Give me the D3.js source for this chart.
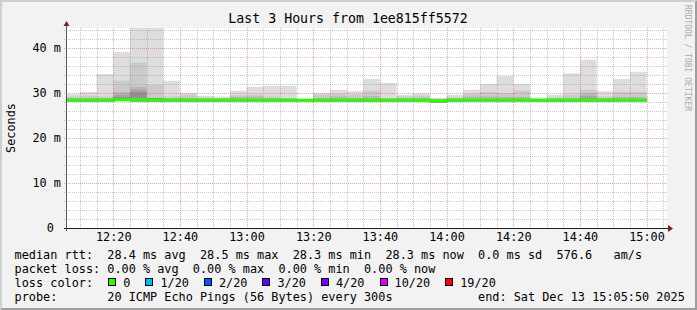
<!DOCTYPE html>
<html>
<head>
<meta charset="utf-8">
<script src="https://cdn.jsdelivr.net/npm/d3@7"></script>
<style>
body { margin: 0; background: #F2F2F2; }
text { font-family: "DejaVu Sans Mono", monospace; white-space: pre; }
</style>
</head>
<body>
<div id="my_chart"></div>
<script>
// 5 minute steps, one entry per ping round
var times = ["12:05","12:10","12:15","12:20","12:25","12:30","12:35","12:40","12:45","12:50",
             "12:55","13:00","13:05","13:10","13:15","13:20","13:25","13:30","13:35","13:40",
             "13:45","13:50","13:55","14:00","14:05","14:10","14:15","14:20","14:25","14:30",
             "14:35","14:40","14:45","14:50","14:55"];

// values in ms
var median = [28.4,28.4,28.4,28.5,28.5,28.4,28.4,28.4,28.4,28.4,
              28.4,28.4,28.4,28.4,28.4,28.4,28.4,28.4,28.4,28.4,
              28.4,28.4,28.2,28.4,28.4,28.4,28.4,28.4,28.4,28.4,
              28.4,28.4,28.4,28.4,28.4];
var smokeMin = [28.1,28.1,28.1,28.2,28.1,28.1,28.1,28.1,28.1,28.1,
                28.1,28.1,28.1,28.1,28.1,28.1,28.1,28.1,28.1,28.1,
                28.1,28.1,27.9,28.1,28.1,28.1,28.1,28.1,28.1,28.1,
                28.1,28.1,28.1,28.1,28.1];
var smokeMax = [29.7,30.2,34.2,39.1,48.0,46.5,32.7,30.0,29.4,29.2,
                30.5,31.4,31.6,31.6,28.7,30.0,30.7,30.4,33.1,32.2,
                29.6,29.9,28.9,29.6,30.7,32.0,33.8,32.0,29.0,29.6,
                34.4,37.4,30.4,33.1,34.7];
var smokeP90 = [29.2,29.4,29.2,32.7,36.7,31.8,29.2,29.6,29.0,28.9,
                29.5,29.6,29.2,28.9,28.6,29.6,29.8,29.6,30.5,28.9,
                29.2,29.4,28.7,29.0,29.8,30.2,30.0,30.5,28.7,29.0,
                29.6,30.7,29.2,30.2,30.3];
var smokeP80 = [28.9,28.9,28.9,30.2,31.4,28.9,28.9,28.9,28.8,28.8,
                29.1,29.2,28.9,28.8,28.6,28.9,29.2,28.9,29.3,28.8,
                28.9,28.9,28.6,28.8,29.2,29.2,29.1,29.1,28.6,28.8,
                28.9,29.9,28.9,29.1,29.1];
var smokeP70 = [28.7,28.7,28.7,29.6,30.7,28.8,28.7,28.7,28.7,28.7,
                28.7,28.7,28.7,28.7,28.6,28.7,28.7,28.7,28.7,28.7,
                28.7,28.7,28.5,28.7,28.7,28.7,28.7,28.7,28.6,28.7,
                28.7,29.3,28.7,28.7,28.7];
var smokeP60 = [28.6,28.6,28.6,29.1,30.2,28.9,28.6,28.6,28.6,28.6,
                28.6,28.6,28.6,28.6,28.5,28.6,28.6,28.6,28.6,28.6,
                28.6,28.6,28.4,28.6,28.6,28.6,28.6,28.6,28.5,28.6,
                28.6,28.6,28.6,28.6,28.6];

var xTickLabels = ["12:20","12:40","13:00","13:20","13:40","14:00","14:20","14:40","15:00"];
var yTickValues = [0, 10, 20, 30, 40];
var yTickLabels = ["0 ", "10 m", "20 m", "30 m", "40 m"];

var lossLabels = ["0","1/20","2/20","3/20","4/20","10/20","19/20"];
var lossColors = ["#26ff00","#00b8ff","#0059ff","#5e00ff","#7e00ff","#dd00ff","#ff0000"];

var width = 697, height = 310;
var plotLeft = 66, plotRight = 666, plotTop = 28, plotBottom = 228;
var yTop = 44.44;
var stepMin = 5;
var fontSize = 11.85, charW = 7.13, textLeft = 14.6;

var parseHM = d3.timeParse("%H:%M");
var parseHMS = d3.timeParse("%H:%M:%S");

var x = d3.scaleTime()
  .domain([parseHMS("12:05:50"), parseHMS("15:05:50")])
  .range([plotLeft, plotRight]);
var y = d3.scaleLinear()
  .domain([0, yTop])
  .range([plotBottom, plotTop]);

var svg = d3.select("#my_chart").append("svg")
  .attr("width", width)
  .attr("height", height);

// background + 3d frame
svg.append("rect").attr("width", width).attr("height", height).attr("fill", "#F2F2F2");
svg.append("polygon").attr("points", "0,0 697,0 695,2 2,2 2,308 0,310").attr("fill", "#CFCFCF");
svg.append("polygon").attr("points", "697,0 697,310 0,310 2,308 695,308 695,2").attr("fill", "#9E9E9E");

// canvas
svg.append("rect")
  .attr("x", plotLeft).attr("y", plotTop)
  .attr("width", plotRight - plotLeft + 1).attr("height", plotBottom - plotTop)
  .attr("fill", "#ffffff");

svg.append("clipPath").attr("id", "plotclip")
  .append("rect")
  .attr("x", plotLeft).attr("y", plotTop)
  .attr("width", plotRight - plotLeft).attr("height", plotBottom - plotTop);

// rows for step areas (last one repeated at the end of its interval)
var rows = times.map(function(t, i) {
  return {t: parseHM(t), min: smokeMin[i], max: smokeMax[i], p90: smokeP90[i],
          p80: smokeP80[i], p70: smokeP70[i], p60: smokeP60[i], med: median[i]};
});
var last = rows[rows.length - 1];
rows.push(Object.assign({}, last, {t: d3.timeMinute.offset(last.t, stepMin)}));

var layers = [
  {key: "max", color: "#dddddd"},
  {key: "p90", color: "#cacaca"},
  {key: "p80", color: "#b7b7b7"},
  {key: "p70", color: "#a4a4a4"},
  {key: "p60", color: "#919191"}
];

var data = svg.append("g").attr("clip-path", "url(#plotclip)");

layers.forEach(function(l) {
  var area = d3.area()
    .curve(d3.curveStepAfter)
    .x(function(d) { return x(d.t); })
    .y0(function(d) { return y(d.min); })
    .y1(function(d) { return y(d[l.key]); });
  data.append("path")
    .datum(rows)
    .attr("d", area)
    .attr("fill", l.color);
});

var medLine = d3.line()
  .curve(d3.curveStepAfter)
  .x(function(d) { return x(d.t); })
  .y(function(d) { return y(d.med); });
data.append("path")
  .datum(rows)
  .attr("d", medLine)
  .attr("fill", "none")
  .attr("stroke", lossColors[0])
  .attr("stroke-width", 3);

// grid
var grid = svg.append("g").attr("shape-rendering", "crispEdges");
var px = function(v) { return Math.round(v) + 0.5; };
var majorT = xTickLabels.map(function(s) { return parseHM(s); });
var minorT = x.ticks(d3.timeMinute.every(5)).filter(function(t) { return t.getMinutes() % 20 != 0; });
var minorGrid = "rgba(143,143,143,0.5)", majorGrid = "rgba(222,79,79,0.5)";

minorT.forEach(function(t) {
  grid.append("line").attr("x1", px(x(t))).attr("x2", px(x(t)))
    .attr("y1", plotTop).attr("y2", plotBottom)
    .attr("stroke", minorGrid).attr("stroke-dasharray", "1,1");
});
d3.range(2, yTop, 2).filter(function(v) { return v % 10 != 0; }).forEach(function(v) {
  grid.append("line").attr("x1", plotLeft - 2).attr("x2", plotRight + 2)
    .attr("y1", px(y(v))).attr("y2", px(y(v)))
    .attr("stroke", minorGrid).attr("stroke-dasharray", "1,1");
});
majorT.forEach(function(t) {
  grid.append("line").attr("x1", px(x(t))).attr("x2", px(x(t)))
    .attr("y1", plotTop).attr("y2", plotBottom + 2)
    .attr("stroke", majorGrid).attr("stroke-dasharray", "1,1");
});
yTickValues.forEach(function(v) {
  grid.append("line").attr("x1", plotLeft - 2).attr("x2", plotRight + 2)
    .attr("y1", px(y(v))).attr("y2", px(y(v)))
    .attr("stroke", majorGrid).attr("stroke-dasharray", "1,1");
});

// axes lines + arrows
var axisCol = "#1F1F1F", arrowCol = "#801F1F";
svg.append("line").attr("x1", plotLeft - 2).attr("x2", plotRight + 4)
  .attr("y1", plotBottom + 0.5).attr("y2", plotBottom + 0.5)
  .attr("stroke", axisCol).attr("shape-rendering", "crispEdges");
svg.append("line").attr("x1", plotLeft + 0.5).attr("x2", plotLeft + 0.5)
  .attr("y1", plotBottom + 3).attr("y2", plotTop - 6)
  .attr("stroke", "#555").attr("shape-rendering", "crispEdges");
svg.append("path")
  .attr("d", "M" + (plotRight + 2) + "," + (plotBottom - 3) + "L" + (plotRight + 2) + "," + (plotBottom + 4) + "L" + (plotRight + 7) + "," + (plotBottom + 0.5) + "Z")
  .attr("fill", arrowCol);
svg.append("path")
  .attr("d", "M" + (plotLeft - 2.5) + "," + (plotTop - 2) + "L" + (plotLeft + 3.5) + "," + (plotTop - 2) + "L" + (plotLeft + 0.5) + "," + (plotTop - 7) + "Z")
  .attr("fill", arrowCol);

// axis labels
var xAxis = svg.append("g")
  .attr("transform", "translate(0," + plotBottom + ")")
  .call(d3.axisBottom(x).tickValues(majorT).tickFormat(function(d, i) { return xTickLabels[i]; })
    .tickSize(0).tickPadding(5));
var yAxis = svg.append("g")
  .attr("transform", "translate(" + plotLeft + ",0)")
  .call(d3.axisLeft(y).tickValues(yTickValues).tickFormat(function(d, i) { return yTickLabels[i]; })
    .tickSize(0).tickPadding(5));
[xAxis, yAxis].forEach(function(a) {
  a.select(".domain").remove();
  a.attr("font-family", null).attr("font-size", null);
  a.selectAll("text").attr("font-size", fontSize).attr("fill", "#000");
});

// titles
svg.append("text")
  .attr("x", 348).attr("y", 23)
  .attr("text-anchor", "middle")
  .attr("font-size", 13.25)
  .text("Last 3 Hours from 1ee815ff5572");

svg.append("text")
  .attr("transform", "translate(14.5," + ((plotTop + plotBottom) / 2) + ") rotate(-90)")
  .attr("text-anchor", "middle")
  .attr("font-size", fontSize)
  .text("Seconds");

svg.append("text")
  .attr("transform", "translate(685,5) rotate(90)")
  .attr("font-size", 8)
  .attr("fill", "#aaaaaa")
  .text("RRDTOOL / TOBI OETIKER");

// legend
var legendLines = [
  "median rtt:  28.4 ms avg  28.5 ms max  28.3 ms min  28.3 ms now  0.0 ms sd  576.6   am/s",
  "packet loss: 0.00 % avg  0.00 % max  0.00 % min  0.00 % now",
  "loss color:",
  "probe:       20 ICMP Echo Pings (56 Bytes) every 300s"
];
var legendY = [258.5, 272.5, 286.5, 300.5];

var legend = svg.append("g").attr("font-size", fontSize);
legendLines.forEach(function(s, i) {
  legend.append("text").attr("x", textLeft).attr("y", legendY[i]).text(s);
});
legend.append("text").attr("x", textLeft + 65 * charW).attr("y", legendY[3])
  .text("end: Sat Dec 13 15:05:50 2025");

var bx = textLeft + 13 * charW + 1;
lossLabels.forEach(function(lab, i) {
  legend.append("rect")
    .attr("x", Math.round(bx) + 0.5).attr("y", legendY[2] - 8)
    .attr("width", 7).attr("height", 7)
    .attr("fill", lossColors[i]).attr("stroke", "#000");
  var tx = bx + 15;
  legend.append("text").attr("x", tx).attr("y", legendY[2]).text(lab);
  bx = tx + lab.length * charW + 15;
});
</script>
</body>
</html>
